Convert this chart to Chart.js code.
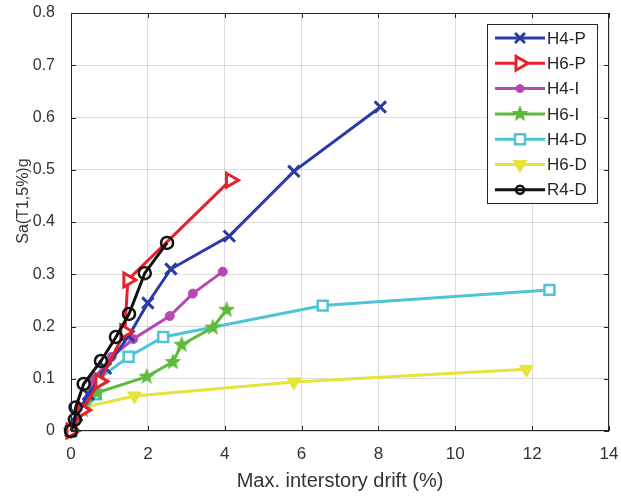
<!DOCTYPE html>
<html>
<head>
<meta charset="utf-8">
<script src="https://cdn.jsdelivr.net/npm/chart.js@4"></script>
<style>
  html, body { margin: 0; padding: 0; background: #fff; }
  #wrap { width: 621px; height: 497px; position: relative; }
</style>
</head>
<body>
<div id="wrap"><canvas id="chart"></canvas></div>
<script>
// drift (%) and Sa(T1,5%) for each model
const h4pDrift = [0, 0.15, 0.45, 0.9, 1.5, 2.0, 2.6, 4.12, 5.8, 8.05];
const h4pSa    = [0, 0.03, 0.07, 0.12, 0.182, 0.245, 0.31, 0.373, 0.497, 0.62];

const h6pDrift = [0, 0.3, 0.75, 1.4, 1.48, 4.15];
const h6pSa    = [0, 0.04, 0.095, 0.19, 0.289, 0.48];

const h4iDrift = [0, 0.25, 0.57, 1.06, 1.62, 2.57, 3.17, 3.95];
const h4iSa    = [0, 0.04, 0.098, 0.142, 0.176, 0.22, 0.263, 0.305];

const h6iDrift = [0, 0.31, 0.67, 1.97, 2.65, 2.88, 3.69, 4.05];
const h6iSa    = [0, 0.04, 0.073, 0.104, 0.132, 0.165, 0.198, 0.232];

const h4dDrift = [0, 0.65, 0.72, 1.5, 2.4, 6.55, 12.45];
const h4dSa    = [0, 0.07, 0.1, 0.142, 0.18, 0.24, 0.27];

const h6dDrift = [0, 0.32, 1.65, 5.8, 11.85];
const h6dSa    = [0, 0.045, 0.067, 0.094, 0.118];

const r4dDrift = [0, 0.1, 0.12, 0.33, 0.78, 1.17, 1.51, 1.92, 2.5];
const r4dSa    = [0, 0.022, 0.045, 0.09, 0.134, 0.18, 0.224, 0.302, 0.36];

const seriesNames = ["H4-P", "H6-P", "H4-I", "H6-I", "H4-D", "H6-D", "R4-D"];
const xTicks = [0, 2, 4, 6, 8, 10, 12, 14];
const yTicks = [0, 0.1, 0.2, 0.3, 0.4, 0.5, 0.6, 0.7, 0.8];
const yTitle = "Sa(T1,5%)g";

const FONT = "'Liberation Sans', Arial, sans-serif";
const AXIS = "#262626";

function pairs(xs, ys) {
  return xs.map((x, i) => ({ x: x, y: ys[i] }));
}

// filled five-point star used as a point image
function starImage(color, r) {
  const size = Math.ceil(r * 2 + 4);
  const cv = document.createElement("canvas");
  cv.width = size; cv.height = size;
  const g = cv.getContext("2d");
  const c = size / 2;
  g.beginPath();
  for (let i = 0; i < 10; i++) {
    const rad = i % 2 === 0 ? r : r * 0.42;
    const a = -Math.PI / 2 + i * Math.PI / 5;
    const px = c + rad * Math.cos(a), py = c + rad * Math.sin(a);
    if (i === 0) g.moveTo(px, py); else g.lineTo(px, py);
  }
  g.closePath();
  g.fillStyle = color;
  g.fill();
  return cv;
}

const green = "#5dbb3c";
const star = starImage(green, 9);

const styles = [
  { color: "#2b3aa6", pointStyle: "crossRot", radius: 8, fill: "#2b3aa6", rotation: 0, pw: 3 },
  { color: "#e8202a", pointStyle: "triangle", radius: 8, fill: "#ffffff", rotation: 90, pw: 3 },
  { color: "#b548b3", pointStyle: "circle", radius: 4.5, fill: "#b548b3", rotation: 0, pw: 1 },
  { color: green, pointStyle: star, radius: 9, fill: green, rotation: 0, pw: 1 },
  { color: "#4fc4d4", pointStyle: "rect", radius: 7, fill: "#ffffff", rotation: 0, pw: 2.5 },
  { color: "#e6e43a", pointStyle: "triangle", radius: 8, fill: "#e6e43a", rotation: 180, pw: 1 },
  { color: "#111111", pointStyle: "circle", radius: 6, fill: "rgba(255,255,255,0)", rotation: 0, pw: 2.5 }
];

const seriesData = [
  pairs(h4pDrift, h4pSa),
  pairs(h6pDrift, h6pSa),
  pairs(h4iDrift, h4iSa),
  pairs(h6iDrift, h6iSa),
  pairs(h4dDrift, h4dSa),
  pairs(h6dDrift, h6dSa),
  pairs(r4dDrift, r4dSa)
];

const drawOrder = [2, 1, 4, 3, 5, 6, 0];

const datasets = seriesNames.map((name, i) => ({
  label: name,
  data: seriesData[i],
  showLine: true,
  borderColor: styles[i].color,
  borderWidth: 3,
  backgroundColor: styles[i].fill,
  pointStyle: styles[i].pointStyle,
  pointRadius: styles[i].radius,
  pointHoverRadius: styles[i].radius,
  pointRotation: styles[i].rotation,
  pointBorderColor: styles[i].color,
  pointBackgroundColor: styles[i].fill,
  pointBorderWidth: styles[i].pw,
  order: drawOrder[i],
  clip: false,
  tension: 0
}));

// MATLAB-style box with inward ticks, plus the y-axis label
const boxPlugin = {
  id: "box",
  afterDatasetsDraw(chart) {
    const { ctx, chartArea: a, scales } = chart;
    ctx.save();
    ctx.strokeStyle = AXIS;
    ctx.lineWidth = 1;
    ctx.strokeRect(a.left + 0.5, a.top + 0.5, a.right - a.left - 1, a.bottom - a.top - 1);
    ctx.beginPath();
    xTicks.forEach(v => {
      const x = Math.round(scales.x.getPixelForValue(v)) + 0.5;
      ctx.moveTo(x, a.bottom); ctx.lineTo(x, a.bottom - 5);
      ctx.moveTo(x, a.top); ctx.lineTo(x, a.top + 5);
    });
    yTicks.forEach(v => {
      const y = Math.round(scales.y.getPixelForValue(v)) + 0.5;
      ctx.moveTo(a.left, y); ctx.lineTo(a.left + 5, y);
      ctx.moveTo(a.right, y); ctx.lineTo(a.right - 5, y);
    });
    ctx.stroke();

    ctx.translate(24, scales.y.getPixelForValue(0.44));
    ctx.rotate(-Math.PI / 2);
    ctx.fillStyle = "#333";
    ctx.font = "16px " + FONT;
    ctx.textAlign = "center";
    ctx.textBaseline = "middle";
    ctx.fillText(yTitle, 0, 0);
    ctx.restore();
  }
};

// legend box in the upper right corner
const legendPlugin = {
  id: "boxLegend",
  afterDraw(chart) {
    const ctx = chart.ctx;
    const left = 487, top = 24, w = 110, h = 179;
    const rowH = 25.3;
    ctx.save();
    ctx.fillStyle = "#fff";
    ctx.fillRect(left, top, w, h);
    ctx.strokeStyle = AXIS;
    ctx.lineWidth = 1;
    ctx.strokeRect(left + 0.5, top + 0.5, w, h);
    seriesNames.forEach((name, i) => {
      const y = top + 14 + i * rowH;
      const s = styles[i];
      ctx.strokeStyle = s.color;
      ctx.lineWidth = 3;
      ctx.beginPath();
      ctx.moveTo(495, y); ctx.lineTo(545, y);
      ctx.stroke();
      ctx.strokeStyle = s.color;
      ctx.fillStyle = s.fill;
      ctx.lineWidth = s.pw;
      const r = i === 6 || i === 2 ? 4 : i === 0 ? 7 : s.radius;
      Chart.helpers.drawPoint(ctx, { pointStyle: s.pointStyle, radius: r, rotation: s.rotation, borderWidth: s.pw }, 520, y);
      ctx.fillStyle = "#262626";
      ctx.font = "17px " + FONT;
      ctx.textBaseline = "middle";
      ctx.textAlign = "left";
      ctx.fillText(name, 547, y + 1);
    });
    ctx.restore();
  }
};

// keep the plot box fixed: no extra room for overhanging edge labels
function noEdgePadding(s) {
  s.paddingLeft = 0; s.paddingRight = 0;
  s.paddingTop = 0; s.paddingBottom = 0;
}

new Chart(document.getElementById("chart"), {
  type: "scatter",
  data: { datasets: datasets },
  plugins: [boxPlugin, legendPlugin],
  options: {
    responsive: true,
    maintainAspectRatio: false,
    animation: false,
    events: [],
    layout: { padding: { top: 13, right: 12, left: 0, bottom: 0 } },
    plugins: {
      legend: { display: false },
      tooltip: { enabled: false }
    },
    scales: {
      x: {
        type: "linear",
        min: 0, max: 14,
        afterFit(s) { s.height = 66; noEdgePadding(s); },
        afterBuildTicks(s) { s.ticks = xTicks.map(v => ({ value: v })); },
        ticks: { color: "#333", font: { family: FONT, size: 17 }, padding: 13 },
        grid: { color: "rgba(0,0,0,0.13)", drawTicks: false },
        border: { display: false },
        title: {
          display: true, text: "Max. interstory drift (%)",
          color: "#333", font: { family: FONT, size: 20 }, padding: { top: 11 }
        }
      },
      y: {
        type: "linear",
        min: 0, max: 0.8,
        afterFit(s) { s.width = 71; noEdgePadding(s); },
        afterBuildTicks(s) { s.ticks = yTicks.map(v => ({ value: v })); },
        ticks: {
          color: "#333", font: { family: FONT, size: 16 }, padding: 16,
          callback: v => v === 0 ? "0" : v.toFixed(1)
        },
        grid: { color: "rgba(0,0,0,0.13)", drawTicks: false },
        border: { display: false }
      }
    }
  }
});
</script>
</body>
</html>
